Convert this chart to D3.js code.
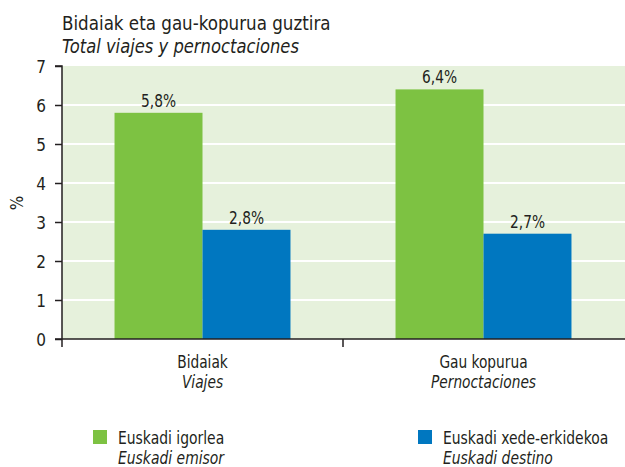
<!DOCTYPE html>
<html>
<head>
<meta charset="utf-8">
<script src="https://cdn.jsdelivr.net/npm/d3@7"></script>
<style>
  html, body { margin: 0; padding: 0; background: #fff; }
  svg { display: block; }
  text { font-family: 'Liberation Sans Narrow', 'DejaVu Sans Condensed', 'Arial Narrow', sans-serif; fill: #231f20; }
</style>
</head>
<body>
<svg id="chart" width="625" height="467"></svg>
<script>
const titleEu = "Bidaiak eta gau-kopurua guztira";
const titleEs = "Total viajes y pernoctaciones";
const categoriesEu = ["Bidaiak", "Gau kopurua"];
const categoriesEs = ["Viajes", "Pernoctaciones"];
const seriesEu = ["Euskadi igorlea", "Euskadi xede-erkidekoa"];
const seriesEs = ["Euskadi emisor", "Euskadi destino"];
const seriesColors = ["#7dc242", "#0077c0"];
const emisorValues = [5.8, 6.4];
const destinoValues = [2.8, 2.7];
const valueLabels = [["5,8%", "6,4%"], ["2,8%", "2,7%"]];
const yTicks = [0, 1, 2, 3, 4, 5, 6, 7];
const yLabel = "%";

const svg = d3.select("#chart");
const pLeft = 62, pRight = 624, pTop = 66, pBottom = 339;

function txt(parent, x, yy, str, size, sx, opts = {}) {
  const t = parent.append("text")
    .attr("transform", `translate(${x},${yy}) scale(${sx},1)`)
    .attr("font-size", size)
    .attr("text-anchor", opts.anchor || "start")
    .text(str);
  if (opts.italic) t.attr("font-style", "italic");
  return t;
}

const x0 = d3.scaleBand().domain(categoriesEu).range([pLeft, pRight]).padding(0);
const x1 = d3.scaleBand().domain(seriesEu).range([0, x0.bandwidth()]).paddingInner(0).paddingOuter(0.597);
const y = d3.scaleLinear().domain([0, 7]).range([pBottom, pTop]);

// plot background
svg.append("rect").attr("x", pLeft).attr("y", y(7)).attr("width", 625 - pLeft).attr("height", y(0) - y(7)).attr("fill", "#e6f1dc");

// gridlines
svg.append("g").selectAll("line").data(yTicks.filter(d => d > 0 && d < 7)).join("line")
  .attr("x1", pLeft).attr("x2", 625).attr("y1", d => y(d)).attr("y2", d => y(d))
  .attr("stroke", "#fff").attr("stroke-width", 2);

// bars
const seriesValues = [emisorValues, destinoValues];
seriesEu.forEach((s, si) => {
  const g = svg.append("g");
  g.selectAll("rect").data(categoriesEu).join("rect")
    .attr("x", (c) => x0(c) + x1(s))
    .attr("width", x1.bandwidth())
    .attr("y", (c, i) => y(seriesValues[si][i]))
    .attr("height", (c, i) => y(0) - y(seriesValues[si][i]))
    .attr("fill", seriesColors[si]);
  categoriesEu.forEach((c, i) => {
    txt(g, x0(c) + x1(s) + x1.bandwidth() / 2, y(seriesValues[si][i]) - 6, valueLabels[si][i], 18, 0.85, { anchor: "middle" });
  });
});

// y axis
const yAxis = d3.axisLeft(y).tickValues(yTicks).tickSize(7).tickPadding(9).tickFormat(d3.format("d"));
const gy = svg.append("g").attr("transform", `translate(${pLeft},0)`).call(yAxis);
gy.select(".domain").attr("stroke", "#231f20").attr("stroke-width", 1.5).attr("d", `M-7,${pTop}H0V${pBottom}`);
gy.selectAll(".tick line").attr("stroke", "#231f20").attr("stroke-width", 1.5);
gy.selectAll(".tick text").attr("font-size", 17).attr("font-family", "'Liberation Sans Narrow', 'DejaVu Sans Condensed', sans-serif").attr("fill", "#231f20").attr("dy", "0.36em");

// x axis
const gx = svg.append("g").attr("transform", `translate(0,${pBottom})`);
gx.append("line").attr("x1", pLeft - 7).attr("x2", 625).attr("y1", 0).attr("y2", 0).attr("stroke", "#231f20").attr("stroke-width", 1.5);
const bounds = [pLeft, x0(categoriesEu[1])];
gx.selectAll("line.t").data(bounds).join("line").attr("class", "t")
  .attr("x1", d => d).attr("x2", d => d).attr("y1", 0).attr("y2", 8)
  .attr("stroke", "#231f20").attr("stroke-width", 1.5);
categoriesEu.forEach((c, i) => {
  const cx = x0(c) + x0.bandwidth() / 2;
  txt(svg, cx, 368, c, 17, 0.9, { anchor: "middle" });
  txt(svg, cx, 388, categoriesEs[i], 17, 0.9, { anchor: "middle", italic: true });
});

// y label
svg.append("text").attr("transform", "translate(23,203) rotate(-90)").attr("text-anchor", "middle").attr("font-size", 17).text(yLabel);

// title
txt(svg, 62, 30, titleEu, 20, 0.93);
txt(svg, 62, 53, titleEs, 20, 0.91, { italic: true });

// legend
const legendX = [93, 418];
seriesEu.forEach((s, i) => {
  svg.append("rect").attr("x", legendX[i]).attr("y", 430).attr("width", 14).attr("height", 14).attr("fill", seriesColors[i]);
  txt(svg, legendX[i] + 25, 444, s, 17, 0.91);
  txt(svg, legendX[i] + 25, 464, seriesEs[i], 17, 0.91, { italic: true });
});
</script>
</body>
</html>
